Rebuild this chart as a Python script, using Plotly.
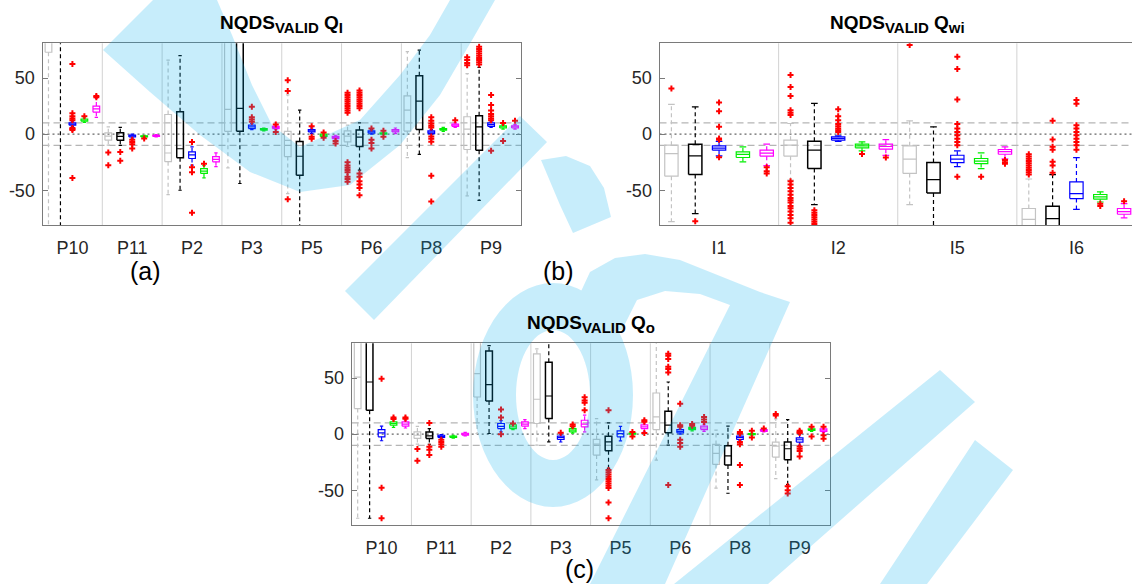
import math
import plotly.graph_objects as go

W, H = 1132, 584

# ---------------- data ----------------
SERIES_COLORS = ["#c3c3c3", "#000000", "#0000ff", "#00ee00", "#ff00ff"]
OUTLIER_COLOR = "#ff0000"

CATS_A = ["P10", "P11", "P2", "P3", "P5", "P6", "P8", "P9"]
A_Q1 = [[73, -5.4, -24.5, 2.5, -20, -6.8, 2.7, -13.7],
        [90, -5.4, -21, 2.5, -36.6, -11, 4.2, -14.3],
        [8, -2.5, -21.7, 5, 2, 1, 0.5, 7],
        [11.5, -2.5, -35, 3.5, -2, 0, 3.5, 5.5],
        [19.6, -2, -24.7, 5, -4, 2, 7, 5.5]]
A_MED = [[88, -1.8, -16.8, 22, -5.5, -1.8, 21.4, 4.5],
         [100, -2, -13, 23, -19.7, -2.7, 29.5, 6.5],
         [9, -1.5, -18.5, 6.5, 3, 2, 1.8, 8.5],
         [12.5, -2, -33, 4.2, -1, 0.6, 4.2, 6.5],
         [22.6, -1.5, -22.5, 6, -3, 3, 8, 6.5]]
A_Q3 = [[100, 1.2, 17.5, 95, 2.5, 3, 34.2, 15.5],
        [110, 1.2, 20, 95, -6.5, 3.6, 52, 16.4],
        [10, -0.8, -15.8, 8, 4, 3, 3, 10],
        [13.5, -1.5, -30.7, 5, 0, 1.2, 5, 7.5],
        [25, -1, -20, 7, -2, 4, 9, 7.5]]
A_LO = [[-95, -9.8, -54, -30, -53, -11, -21, -55],
        [-95, -10, -50, -44, -95, -32, -18, -59],
        [7, -3.5, -27.7, 4, 0.5, 0, -0.5, 6],
        [10.5, -3, -39, 3, -2.5, -0.5, 2.5, 4.5],
        [15, -2.5, -29, 4, -5, 0.5, 6, 4.5]]
A_HI = [[110, 6.5, 66, 110, 35, 8, 73.5, 54],
        [120, 6, 70, 110, 21.4, 10, 75, 59.5],
        [11, 0, -11.3, 9.5, 5.5, 4, 4, 11],
        [14.5, -1, -28, 5.5, 0.5, 1.8, 6, 8.5],
        [32, -0.5, -16.7, 8, -1, 5.5, 10, 8.5]]
A_OUT = [
    [[], [-16.4, -27.7], [], [], [48, 38.5, -58],
     [37, 35, 33, 31, 29, 27, 25, 23, 21, 19, -25, -28, -30, -32, -34, -38, -40, -42.5],
     [], [61.5, 63.5, 66, 68.5]],
    [[], [-16, -23.8], [], [], [],
     [39, 37, 35, 33, 31, 29, 27, 25, 23, -35, -38, -42, -45, -48, -54.5],
     [], [62, 64, 66, 68, 70, 72, 74, 76, 78]],
    [[62.5, 18.7, 16, 14, 12.5, 5.5, 4.5, 3.6, -39], [-5, -7, -9, -12.8],
     [-7, -29.5, -34, -70], [24.4, 15, 13, 11], [7, -2.4, -4], [5, -5, -8, -12.8],
     [15, 12, 9.5, 7.5, 6, -2, -4, -6.8, -37, -60],
     [34.8, 26, 21, 18, 16, 14, 12.5, -14.9]],
    [[16], [-3.8], [-26.3], [], [1.5, -3.2], [3, -2.4], [], [10, -6]],
    [[33, 34], [], [], [8.6, 2], [-6, -8.3], [], [12.5], [12]],
]

CATS_B = ["I1", "I2", "I5", "I6"]
B_Q1 = [[-37.5, -19.6, -35, -90], [-36, -30.7, -52.4, -90],
        [-14.3, -5.4, -25.3, -57.4], [-20.8, -12.2, -26.2, -58],
        [-19.6, -13.4, -17.9, -71.4]]
B_MED = [[-17.3, -9.8, -22.3, -76], [-19.3, -14.3, -40.5, -75.3],
         [-12.5, -3.8, -22.3, -53], [-18, -10.5, -24, -56],
         [-17, -11, -15.5, -69]]
B_Q3 = [[-9.8, -5.4, -10.4, -66.3], [-8.9, -6.3, -25.3, -64.3],
        [-10.4, -2.4, -18.8, -42.6], [-15.8, -8.9, -21.7, -53.8],
        [-14.3, -8.9, -13.7, -66.3]]
B_LO = [[-78, -41, -62.8, -100], [-70.8, -62.8, -95, -100],
        [-19.3, -6.5, -29, -67], [-24.7, -15, -30.7, -60.5],
        [-28, -19, -22, -74.7]]
B_HI = [[26.5, 9.5, 11.9, -40], [24.4, 27.4, 6.5, -36],
        [-6.5, -1.5, -14.9, -21], [-11.3, -6.8, -16.7, -51.5],
        [-8.9, -4.8, -11.3, -62]]
B_OUT = [
    [[40.8],
     [52.7, 42, 34, 21.4, 19, 17, -42, -45, -48, -51, -54, -57, -59, -61, -64, -66, -69, -72, -75, -79],
     [79.5], [-18, -20, -22, -24, -26, -28, -30, -32, -34, -36]],
    [[-77.7], [-67.9, -70, -72, -74, -76, -78, -80], [],
     [11.9, -4.8, -11.3, -14, -24.7, -28, -34.5]],
    [[28.3, 20.5, 6.5, -3.9, -5, -20.5], [22.3, 16, 12.5, 9, 7, 5, 3.5, 2],
     [69, 58, 31, 9, 5, 2, -1, -4, -7, -10, -38],
     [30.4, 27, 8, 5, 2, -1, -4, -7, -10, -14]],
    [[], [-17.8], [-38], [-62, -64]],
    [[-29.5, -33, -35], [-20.8], [-23, -25, -26.5], [-59.8]],
]

CATS_C = ["P10", "P11", "P2", "P3", "P5", "P6", "P8", "P9"]
C_Q1 = [[22.8, -3.8, 33.1, 9.5, -18.7, 4.1, -27, -20.4],
        [21.3, -3.8, 29.6, 13.9, -14.8, 1.2, -27.5, -22.8],
        [-2.4, -3, 5, -4.7, -2.4, 1.2, -4.7, -7.1],
        [8, -3, 5, 2, 0, 4, -0.5, 3.3],
        [7.1, -0.8, 7.1, 6.5, 5, 4.1, 2.5, 2.4]]
C_MED = [[50.9, -1, 53.9, 31.1, -8.9, 15.4, -17.2, -10.7],
         [46.5, -1.5, 44.1, 34, -6.8, 8, -19.3, -13],
         [1.2, -2, 7, -3, 0.5, 2.5, -3, -5],
         [9.5, -2.4, 6.5, 3.5, 0.5, 5, 0, 4],
         [9, 0, 9, 9, 6.5, 5.5, 3.2, 3.5]]
C_Q3 = [[100, 2, 100, 71.6, -4.7, 36.7, -9.2, -7.1],
        [100, 2, 74.2, 64.2, -1.8, 20.4, -10.4, -7.1],
        [4.1, -1, 9.5, -1.8, 3, 4.1, -1.8, -3.3],
        [11, -1.8, 8.3, 5, 1, 6, 0.5, 4.7],
        [10.9, 0.8, 10.9, 12.4, 8.3, 7.1, 4, 4.7]]
C_LO = [[-75, -8.9, 0.6, -9.8, -40.8, -23.1, -48.2, -39.7],
        [-75, -9, 0.6, -6.8, -30.5, -9.8, -52.7, -45],
        [-5.9, -3.5, 2, -7, -6, 0, -6, -10],
        [6, -3.5, 4, 1, -1, 3, -1, 2.5],
        [5.5, -1.5, 5, 2, 2, 2.5, 2, 1.5]]
C_HI = [[110, 7, 110, 76, 13.9, 100, 3.6, 13.6],
        [110, 5, 79, 85, 10, 46.5, 7.1, 13],
        [7.1, -0.5, 12, 0, 7, 5.5, -0.5, 0],
        [13, -1, 9, 6, 1.5, 7, 1, 5.5],
        [12.5, 1.5, 13, 16.9, 10, 9, 4.5, 5.5]]
C_OUT = [
    [[], [-13.3, -23.7], [], [], [], [], [], [16.6, 18]],
    [[], [10, -11.3, -14, -18.7], [],
     [], [21.3, -32, -34, -36, -38, -40, -42, -44, -46, -48, -61, -75],
     [71.6, 70, 67, 60, 58, 55, -45.3], [], [-46.5, -50, -53]],
    [[49.4, -47.7, -74.9], [-5, -7, -9, -11.3], [21.9, 14.8, 0], [1.2], [],
     [27.2, 8, 6.5, -5, -8, -11.3], [2, 0.5, -7, -9, -27.5, -45.3],
     [3, 2, 1, -11, -13, -15, -20]],
    [[14.8, 13.5], [], [9.5], [8.6, 7], [2, -2], [9, 7.5], [3, -3], [6.5, -2]],
    [[14.8, 13.8], [], [], [33, 30, 28, 21.3], [12.4, 11, 1], [15.4, 13, 10.9],
     [5], [6.5, -1, -4.1]],
]

SUB = "<sub><span style='font-size:15px'>%s</span></sub>"
TITLES = ["NQDS" + SUB % "VALID" + " Q" + SUB % "I",
          "NQDS" + SUB % "VALID" + " Q" + SUB % "wi",
          "NQDS" + SUB % "VALID" + " Q" + SUB % "o"]
PANEL_LABELS = ["(a)", "(b)", "(c)"]
YTICKS = [-50, 0, 50]
YTICK_TEXT = ["-50", "0", "50"]
REF_DASH = [-10, 10]

# ---------------- layout geometry (pixels) ----------------
FONT = "Liberation Sans, Arial, Helvetica, sans-serif"
NS = 5  # boxes per group
BOX_HW = 0.28
CAP_HW = 0.14
YR = [-81, 81]


def fx(x):
    return x / W


def fy(y):
    return 1 - y / H


PANELS = [
    dict(cats=CATS_A, q1=A_Q1, med=A_MED, q3=A_Q3, lo=A_LO, hi=A_HI, out=A_OUT,
         x0=42.5, x1=521.0, y0=43.3, y1=225.0, clip_right=None),
    dict(cats=CATS_B, q1=B_Q1, med=B_MED, q3=B_Q3, lo=B_LO, hi=B_HI, out=B_OUT,
         x0=659.5, x1=1136.0, y0=43.3, y1=225.0, clip_right=W),
    dict(cats=CATS_C, q1=C_Q1, med=C_MED, q3=C_Q3, lo=C_LO, hi=C_HI, out=C_OUT,
         x0=351.7, x1=829.5, y0=343.3, y1=525.0, clip_right=None),
]

fig = go.Figure()
shapes = []
annotations = []

for pi, P in enumerate(PANELS):
    k = "" if pi == 0 else str(pi + 1)
    xa, ya = "x" + k, "y" + k
    ncat = len(P["cats"])
    full = ncat * NS
    right_px = P["x1"] if P["clip_right"] is None else P["clip_right"]
    xmax = full * (right_px - P["x0"]) / (P["x1"] - P["x0"])

    for s in range(NS):
        color = SERIES_COLORS[s]
        lw = 1.5 if s == 1 else 1.2
        bx, by, mx, my, wx, wy, cx, cy, ox, oy = [], [], [], [], [], [], [], [], [], []
        for c in range(ncat):
            xc = c * NS + s + 0.5
            q1, md, q3 = P["q1"][s][c], P["med"][s][c], P["q3"][s][c]
            lo, hi = P["lo"][s][c], P["hi"][s][c]
            bx += [xc - BOX_HW, xc + BOX_HW, xc + BOX_HW, xc - BOX_HW, xc - BOX_HW, None]
            by += [q1, q1, q3, q3, q1, None]
            mx += [xc - BOX_HW, xc + BOX_HW, None]
            my += [md, md, None]
            wx += [xc, xc, None, xc, xc, None]
            wy += [q3, hi, None, q1, lo, None]
            cx += [xc - CAP_HW, xc + CAP_HW, None, xc - CAP_HW, xc + CAP_HW, None]
            cy += [hi, hi, None, lo, lo, None]
            for v in P["out"][s][c]:
                ox.append(xc)
                oy.append(v)
        common = dict(xaxis=xa, yaxis=ya, showlegend=False, hoverinfo="skip")
        fig.add_trace(go.Scatter(x=wx, y=wy, mode="lines",
                                 line=dict(color=color, width=1.2, dash="4px,3px"), **common))
        fig.add_trace(go.Scatter(x=cx, y=cy, mode="lines",
                                 line=dict(color=color, width=1.2), **common))
        fig.add_trace(go.Scatter(x=bx, y=by, mode="lines",
                                 line=dict(color=color, width=lw), **common))
        fig.add_trace(go.Scatter(x=mx, y=my, mode="lines",
                                 line=dict(color=color, width=1.2), **common))
        fig.add_trace(go.Scatter(x=ox, y=oy, mode="markers",
                                 marker=dict(symbol="cross", size=5, color=OUTLIER_COLOR),
                                 cliponaxis=True, **common))

    dom_x = [fx(P["x0"]), fx(right_px)]
    dom_y = [fy(P["y1"]), fy(P["y0"])]
    fig.update_layout(**{
        ("xaxis" + k): dict(domain=dom_x, anchor=ya, range=[0, xmax],
                            tickvals=[c * NS + NS / 2 for c in range(ncat)],
                            ticktext=P["cats"], ticks="", showgrid=False, zeroline=False,
                            showline=True, linecolor="#7a7a7a", linewidth=1, mirror=True,
                            tickfont=dict(family=FONT, size=18, color="#262626"),
                            ticklabelstandoff=6),
        ("yaxis" + k): dict(domain=dom_y, anchor=xa, range=YR, tickvals=YTICKS,
                            ticktext=YTICK_TEXT,
                            ticks="inside", ticklen=5, tickcolor="#7a7a7a",
                            showgrid=False, zeroline=False, showline=True,
                            linecolor="#7a7a7a", linewidth=1,
                            mirror=("ticks" if P["clip_right"] is None else False),
                            tickfont=dict(family=FONT, size=18, color="#262626"),
                            ticklabelstandoff=3),
    })

    # separators between groups
    for c in range(1, ncat):
        shapes.append(dict(type="line", xref=xa, yref=ya + " domain", x0=c * NS, x1=c * NS,
                           y0=0, y1=1, line=dict(color="#d2d2d2", width=1), layer="below"))
    # reference lines
    for v in REF_DASH:
        shapes.append(dict(type="line", xref=xa + " domain", yref=ya, x0=0, x1=1, y0=v, y1=v,
                           line=dict(color="#b5b5b5", width=1.2, dash="7px,4px"), layer="below"))
    shapes.append(dict(type="line", xref=xa + " domain", yref=ya, x0=0, x1=1, y0=0, y1=0,
                       line=dict(color="#666666", width=1.1, dash="2px,3px"), layer="below"))

    # title
    annotations.append(dict(text="<b>" + TITLES[pi] + "</b>", xref="paper", yref="paper",
                            x=fx((P["x0"] + P["x1"]) / 2), y=fy(P["y0"] - 19),
                            showarrow=False, xanchor="center", yanchor="middle",
                            font=dict(family=FONT, size=19, color="#000000")))

for lab, (lx, ly) in zip(PANEL_LABELS, [(145, 271), (558, 271), (579, 569)]):
    annotations.append(dict(text=lab, xref="paper", yref="paper", x=fx(lx), y=fy(ly),
                            xanchor="center", yanchor="middle", showarrow=False,
                            font=dict(family=FONT, size=25, color="#000000")))

# ---------------- watermark (decorative overlay) ----------------
def area(poly):
    a = 0
    for i in range(len(poly)):
        x1, y1 = poly[i]
        x2, y2 = poly[(i + 1) % len(poly)]
        a += x1 * y2 - x2 * y1
    return a / 2


def oriented(poly, positive=True):
    if (area(poly) > 0) != positive:
        poly = poly[::-1]
    return poly


def ellipse(cx, cy, rx, ry, n=60):
    return [(cx + rx * math.cos(2 * math.pi * t / n), cy + ry * math.sin(2 * math.pi * t / n))
            for t in range(n)]


WM_POLYS = [
    # upper-left swoosh
    [(103, 50), (150, 92), (200, 135), (250, 172), (300, 192), (350, 185), (400, 145),
     (440, 95), (475, 35), (495, 0), (450, 0), (430, 35), (400, 75), (360, 120),
     (300, 147), (272, 125), (252, 85), (232, 35), (217, 0), (153, 0)],
    # diagonal band ending in a point
    [(374, 320), (345, 291), (520, 116), (547, 142)],
    # small curved piece
    [(541, 160), (566, 156), (590, 166), (604, 188), (611, 217), (573, 233), (560, 205)],
    # arc + descending stroke
    [(577, 330), (577, 300), (590, 272), (615, 258), (645, 254), (680, 260), (720, 276),
     (760, 292), (790, 302), (665, 584), (590, 584), (730, 305), (700, 294), (665, 291),
     (637, 300), (622, 330)],
    # lower right bands
    [(674, 584), (768, 584), (975, 402), (940, 370)],
    [(880, 584), (927, 584), (1013, 470), (975, 440)],
]
RING_OUT = ellipse(553, 395, 80, 112)
RING_IN = ellipse(553, 395, 37, 65)


def to_path(poly):
    pts = ["%.5f,%.5f" % (fx(x), fy(y)) for x, y in poly]
    return "M" + " L".join(pts) + " Z"


path = " ".join(to_path(oriented(p, True)) for p in WM_POLYS)
path += " " + to_path(oriented(RING_OUT, True)) + " " + to_path(oriented(RING_IN, False))
shapes.append(dict(type="path", xref="paper", yref="paper", path=path,
                   fillcolor="rgba(0,174,239,0.22)", line=dict(width=0),
                   fillrule="nonzero", layer="above"))

fig.update_layout(width=W, height=H, margin=dict(l=0, r=0, t=0, b=0, pad=0),
                  paper_bgcolor="white", plot_bgcolor="white",
                  shapes=shapes, annotations=annotations, showlegend=False)

fig.write_html("out.html")
